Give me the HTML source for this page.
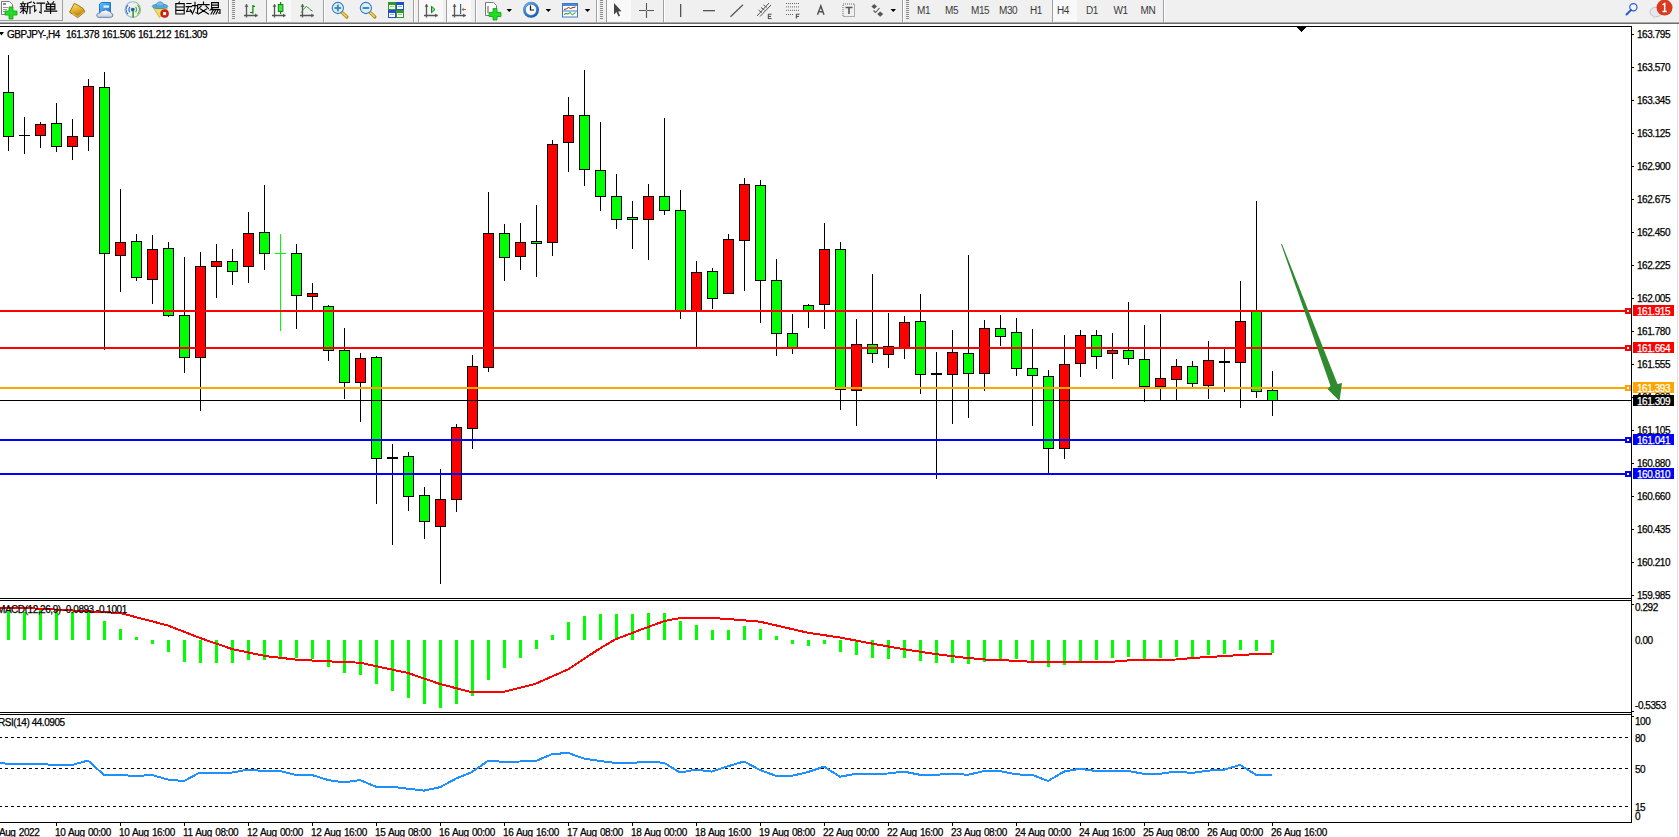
<!DOCTYPE html><html><head><meta charset="utf-8"><style>
html,body{margin:0;padding:0;background:#fff;overflow:hidden;}
svg{display:block;}
.t{font-family:"Liberation Sans",sans-serif;font-size:10px;letter-spacing:-0.45px;fill:#000;stroke:#000;stroke-width:0.25px;}
.tf{font-family:"Liberation Sans",sans-serif;font-size:10px;letter-spacing:-0.4px;fill:#3a3a3a;}
.tm{font-family:"Liberation Sans",sans-serif;font-size:10px;letter-spacing:-0.42px;word-spacing:1px;fill:#000;stroke:#000;stroke-width:0.25px;}
</style></head><body>
<svg width="1679" height="837" viewBox="0 0 1679 837">
<g shape-rendering="crispEdges">
<rect x="0" y="0" width="1679" height="22" fill="#f0f0f0"/>
<rect x="0" y="22" width="1679" height="1" fill="#a8a8a8"/>
<rect x="0" y="23" width="1679" height="1" fill="#6e6e6e"/>
<rect x="0" y="24" width="1679" height="813" fill="#fff"/>
<rect x="1677" y="24" width="1" height="813" fill="#e3e3e3"/>
<rect x="0" y="26" width="1632" height="1" fill="#000"/>
<rect x="1631" y="26" width="1" height="797" fill="#000"/>
<rect x="0" y="598" width="1632" height="1" fill="#000"/>
<rect x="0" y="600" width="1632" height="1" fill="#000"/>
<rect x="0" y="712" width="1632" height="1" fill="#000"/>
<rect x="0" y="714" width="1632" height="1" fill="#000"/>
<rect x="0" y="822" width="1632" height="1" fill="#000"/>
</g>
<rect x="62" y="0" width="1" height="21" fill="#a0a0a0"/>
<rect x="0" y="20" width="63" height="1" fill="#a0a0a0"/>
<path d="M1.5 1.5H9.5L12.5 4.5V14.5H1.5Z" fill="#fff" stroke="#7a7a7a" stroke-width="1"/>
<rect x="3" y="3" width="3" height="2" fill="#888"/>
<rect x="3" y="7" width="5" height="1" fill="#999"/><rect x="3" y="9" width="4" height="1" fill="#999"/><rect x="3" y="11" width="3" height="1" fill="#999"/>
<path d="M9 7H13V11H17V15H13V19H9V15H5V11H9Z" fill="#22dd22" stroke="#10a010" stroke-width="0.8"/>
<g transform="translate(20,1.5)"><path d="M3 0.5V1.8 M0.5 2.3H6 M1.6 3.2L2.2 4.6 M4.6 3.2L4 4.6 M0.2 5.2H6.4 M0.6 7.3H6 M3.2 5.2V12 M3 8.2L0.4 11 M3.5 8.2L6 10.2 M11.3 0.5L7.6 1.8 M7.6 1.8V7.5L6.6 12 M7.6 5.2H12 M10 5.2V12" stroke="#000" stroke-width="1.1" fill="none" stroke-linecap="square"/></g>
<g transform="translate(32.5,1.5)"><path d="M1 0.8L2.2 2 M0.4 4.3H2.2V10L3.6 8.6 M4.6 1.6H12 M8.6 1.6V11.6L7 10.6" stroke="#000" stroke-width="1.1" fill="none" stroke-linecap="square"/></g>
<g transform="translate(44.5,1.5)"><path d="M3 0.2L4 1.5 M9.2 0.2L8.2 1.5 M1.8 2.6H10.4V7.6H1.8Z M1.8 5.1H10.4 M6.1 2.6V12 M0 9.6H12.2" stroke="#000" stroke-width="1.1" fill="none" stroke-linecap="square"/></g>
<defs><linearGradient id="gb" x1="0" y1="0" x2="0.3" y2="1"><stop offset="0" stop-color="#fbe88a"/><stop offset="0.55" stop-color="#e2b52a"/><stop offset="1" stop-color="#b07812"/></linearGradient><linearGradient id="cb" x1="0" y1="0" x2="0" y2="1"><stop offset="0" stop-color="#ffffff"/><stop offset="1" stop-color="#c4cfe2"/></linearGradient><linearGradient id="bx" x1="0" y1="0" x2="1" y2="1"><stop offset="0" stop-color="#5cc4ff"/><stop offset="1" stop-color="#1a78d8"/></linearGradient><radialGradient id="ck" cx="0.4" cy="0.35" r="0.7"><stop offset="0" stop-color="#8fd0ff"/><stop offset="1" stop-color="#0a50b0"/></radialGradient></defs>
<path d="M69.5 12.2 Q72 8 74.3 3.3 Q79 5.5 83.3 8.8 L84.8 11.8 L77.8 17.6 Z" fill="url(#gb)" stroke="#9a6408" stroke-width="0.9"/>
<path d="M72 13.8 L78 16.5 L84 11.6" stroke="#f0d070" stroke-width="0.8" fill="none"/>
<path d="M99.5 4 L101.5 2.5 H110.5 V12.5 H99.5 Z" fill="url(#bx)" stroke="#1a6ac0" stroke-width="0.9"/>
<rect x="103.5" y="5.5" width="5.5" height="2.2" fill="#e8f6ff"/>
<path d="M98 17.3 Q96 16.5 97 14.3 Q97.8 12.8 99.8 13.2 Q100.5 10.2 104 10.4 Q106 9 108.2 11 Q110.5 10.8 111 13 Q113.3 13.5 112.8 16 Q112.3 17.3 110.5 17.3 Z" fill="url(#cb)" stroke="#5a74a6" stroke-width="0.9"/>
<path d="M128 14.2 A6.2 6.2 0 0 1 128 5 M130 12.2 A3.6 3.6 0 0 1 130 7" stroke="#3a6fd0" stroke-width="1.2" fill="none"/>
<path d="M137.5 5 A6.2 6.2 0 0 1 137.5 14.2 M135.5 7 A3.6 3.6 0 0 1 135.5 12.2" stroke="#5aa85a" stroke-width="1.2" fill="none"/>
<path d="M132.8 1.8 A7.8 7.8 0 0 1 132.8 17.4" stroke="#8cc88c" stroke-width="1.1" fill="none"/>
<path d="M132.8 1.8 A7.8 7.8 0 0 0 132.8 17.4" stroke="#9ab4e4" stroke-width="1.1" fill="none"/>
<circle cx="132.8" cy="9.6" r="1.9" fill="#2050c0"/>
<rect x="132.4" y="9.6" width="1.4" height="8" fill="#10a010"/>
<path d="M153.5 8 L159.5 17.5 L167.5 8 Z" fill="#f2dc60" stroke="#c8a828" stroke-width="0.8"/>
<ellipse cx="160" cy="6.3" rx="7.8" ry="2.3" fill="#58acdc" stroke="#3a86c0" stroke-width="0.8"/>
<path d="M156.3 6 Q156.5 1.8 160 1.8 Q163.5 1.8 163.7 6 Z" fill="#70c0ea" stroke="#3a86c0" stroke-width="0.6"/>
<circle cx="164.6" cy="13.6" r="4" fill="#d82010" stroke="#a81808" stroke-width="0.6"/>
<rect x="163.1" y="12.1" width="3" height="3" fill="#fff"/>
<g transform="translate(174,2)"><path d="M5.4 0L4.6 1.5 M1.8 1.6H10.2V12H1.8Z M1.8 5H10.2 M1.8 8.4H10.2" stroke="#000" stroke-width="1.1" fill="none" stroke-linecap="square"/></g>
<g transform="translate(186,2)"><path d="M0.8 1.5H5 M0.2 4.6H5.6 M2.6 4.6L0.6 9.6L5.6 9 M4.2 7.8L5.6 10.6 M6.4 3.6H11.6V11.6L10 10.6 M9 0.4V6L6.4 12" stroke="#000" stroke-width="1.1" fill="none" stroke-linecap="square"/></g>
<g transform="translate(197.5,2)"><path d="M6 0V1.5 M0.4 2.6H11.6 M3.6 4L1 6.6 M8.4 4L11 6.6 M3 7L11 12 M9 7L1 12" stroke="#000" stroke-width="1.1" fill="none" stroke-linecap="square"/></g>
<g transform="translate(209,2)"><path d="M2.6 0.6H9.4V5.6H2.6Z M2.6 3.1H9.4 M3.6 6L1 8.2 M2.2 7.6H11V11.4L9.4 11 M4.2 8.2L2 12 M6.6 8.2L4.4 12 M9 8.2L7 12" stroke="#000" stroke-width="1.1" fill="none" stroke-linecap="square"/></g>
<rect x="228" y="0" width="1" height="22" fill="#a0a0a0"/><rect x="229" y="0" width="1" height="22" fill="#ffffff"/>
<rect x="232" y="0" width="3" height="1" fill="#8a8a8a"/><rect x="232" y="2" width="3" height="1" fill="#8a8a8a"/><rect x="232" y="4" width="3" height="1" fill="#8a8a8a"/><rect x="232" y="6" width="3" height="1" fill="#8a8a8a"/><rect x="232" y="8" width="3" height="1" fill="#8a8a8a"/><rect x="232" y="10" width="3" height="1" fill="#8a8a8a"/><rect x="232" y="12" width="3" height="1" fill="#8a8a8a"/><rect x="232" y="14" width="3" height="1" fill="#8a8a8a"/><rect x="232" y="16" width="3" height="1" fill="#8a8a8a"/><rect x="232" y="18" width="3" height="1" fill="#8a8a8a"/>
<path d="M246.5 4.3 V17.5 M244 15.5 H257.6" stroke="#555" stroke-width="1.3" fill="none"/><path d="M244.5 6.8 L246.5 4.3 L248.5 6.8 Z M255.10000000000002 13.5 L257.6 15.5 L255.10000000000002 17.5 Z" fill="#555"/>
<path d="M252.9 5 V13.8 M250 12.5 H252.9 M252.9 6.4 H255" stroke="#008800" stroke-width="1.2" fill="none"/>
<rect x="266" y="0" width="1" height="22" fill="#a0a0a0"/><rect x="267" y="0" width="1" height="22" fill="#ffffff"/>
<rect x="267" y="0" width="24" height="20" fill="#f9f9f9"/><rect x="267" y="20" width="24" height="1" fill="#ffffff"/><rect x="266" y="0" width="1" height="20" fill="#a0a0a0"/>
<path d="M274.5 4.3 V17.5 M272 15.5 H285.5" stroke="#555" stroke-width="1.3" fill="none"/><path d="M272.5 6.8 L274.5 4.3 L276.5 6.8 Z M283.0 13.5 L285.5 15.5 L283.0 17.5 Z" fill="#555"/>
<rect x="280" y="2" width="1.2" height="12" fill="#0a8a0a"/>
<rect x="278.3" y="4.5" width="4.6" height="7" fill="#44e044" stroke="#0a8a0a" stroke-width="1"/>
<path d="M302.5 4.3 V17.5 M300 15.5 H313.8" stroke="#555" stroke-width="1.3" fill="none"/><path d="M300.5 6.8 L302.5 4.3 L304.5 6.8 Z M311.3 13.5 L313.8 15.5 L311.3 17.5 Z" fill="#555"/>
<path d="M301.2 12.6 Q306 5 307.5 7 Q310 10 312.6 11.2" stroke="#229922" stroke-width="1" fill="none"/>
<rect x="323" y="0" width="1" height="22" fill="#a0a0a0"/><rect x="324" y="0" width="1" height="22" fill="#ffffff"/>
<path d="M340.9 11.3 L346.9 17" stroke="#b08010" stroke-width="3.2" stroke-linecap="round"/>
<path d="M340.9 11.3 L346.9 17" stroke="#e8d050" stroke-width="1.8"/>
<circle cx="337.9" cy="8" r="5.6" fill="#d8f0fa" stroke="#3a7ac8" stroke-width="1.1"/>
<rect x="334.59999999999997" y="7" width="6.6" height="2" fill="#4a88b0"/>
<rect x="336.9" y="4.7" width="2" height="6.6" fill="#4a88b0"/>
<path d="M368.9 11.3 L374.9 17" stroke="#b08010" stroke-width="3.2" stroke-linecap="round"/>
<path d="M368.9 11.3 L374.9 17" stroke="#e8d050" stroke-width="1.8"/>
<circle cx="365.9" cy="8" r="5.6" fill="#d8f0fa" stroke="#3a7ac8" stroke-width="1.1"/>
<rect x="362.59999999999997" y="7" width="6.6" height="2" fill="#4a88b0"/>
<rect x="388" y="2" width="8" height="8" fill="#2a9a2a"/>
<rect x="389" y="5" width="6" height="4" fill="#fff"/>
<rect x="390" y="6" width="4" height="1" fill="#2a9a2a" opacity="0.5"/>
<rect x="396" y="2" width="8" height="8" fill="#2050c8"/>
<rect x="397" y="5" width="6" height="4" fill="#fff"/>
<rect x="398" y="6" width="4" height="1" fill="#2050c8" opacity="0.5"/>
<rect x="388" y="10" width="8" height="8" fill="#2050c8"/>
<rect x="389" y="13" width="6" height="4" fill="#fff"/>
<rect x="390" y="14" width="4" height="1" fill="#2050c8" opacity="0.5"/>
<rect x="396" y="10" width="8" height="8" fill="#2a9a2a"/>
<rect x="397" y="13" width="6" height="4" fill="#fff"/>
<rect x="398" y="14" width="4" height="1" fill="#2a9a2a" opacity="0.5"/>
<rect x="413" y="0" width="1" height="22" fill="#a0a0a0"/><rect x="414" y="0" width="1" height="22" fill="#ffffff"/>
<rect x="418" y="0" width="1" height="22" fill="#a0a0a0"/><rect x="419" y="0" width="1" height="22" fill="#ffffff"/>
<rect x="419" y="0" width="24" height="20" fill="#f9f9f9"/><rect x="419" y="20" width="24" height="1" fill="#ffffff"/><rect x="418" y="0" width="1" height="20" fill="#a0a0a0"/>
<path d="M426.5 4.3 V17.5 M424 15.5 H437.7" stroke="#555" stroke-width="1.3" fill="none"/><path d="M424.5 6.8 L426.5 4.3 L428.5 6.8 Z M435.2 13.5 L437.7 15.5 L435.2 17.5 Z" fill="#555"/>
<path d="M431.5 6.2 L435 9.5 L431.5 12.8 Z" fill="#7fe07f" stroke="#108a10" stroke-width="1"/>
<rect x="446" y="0" width="1" height="22" fill="#a0a0a0"/><rect x="447" y="0" width="1" height="22" fill="#ffffff"/>
<rect x="447" y="0" width="24" height="20" fill="#f9f9f9"/><rect x="447" y="20" width="24" height="1" fill="#ffffff"/><rect x="446" y="0" width="1" height="20" fill="#a0a0a0"/>
<path d="M454.5 4.3 V17.5 M452 15.5 H465.7" stroke="#555" stroke-width="1.3" fill="none"/><path d="M452.5 6.8 L454.5 4.3 L456.5 6.8 Z M463.2 13.5 L465.7 15.5 L463.2 17.5 Z" fill="#555"/>
<rect x="460" y="4" width="1.2" height="10" fill="#1a70b0"/>
<path d="M461.5 9.5 L464 7.5 L463.5 9 H466 V10 H463.5 L464 11.5 Z" fill="#e05010"/>
<rect x="475" y="0" width="1" height="22" fill="#a0a0a0"/><rect x="476" y="0" width="1" height="22" fill="#ffffff"/>
<path d="M485.5 2.5H493.5L496.5 5.5V15.5H485.5Z" fill="#fff" stroke="#7a7a7a" stroke-width="1"/>
<path d="M488 6 V13" stroke="#555" stroke-width="1"/>
<path d="M493 8.5H497V12.5H501V16.5H497V20H493V16.5H489V12.5H493Z" fill="#22dd22" stroke="#10a010" stroke-width="0.8"/>
<path d="M506.5 9 H512.0 L509.25 12 Z" fill="#000"/>
<circle cx="531" cy="9.8" r="8" fill="url(#ck)"/>
<circle cx="531" cy="9.8" r="5.6" fill="#fafafa" stroke="#0a4aa0" stroke-width="0.5"/>
<path d="M530.5 5.5 V10 H534" stroke="#111" stroke-width="1.2" fill="none"/>
<path d="M545.6 9 H551.1 L548.35 12 Z" fill="#000"/>
<rect x="562.5" y="3.5" width="15" height="13.5" fill="#fff" stroke="#3c78c8" stroke-width="1"/>
<rect x="563" y="4" width="14" height="2" fill="#4a88d8"/>
<rect x="563" y="10.5" width="14" height="1" fill="#3c78c8"/>
<path d="M564 9.5 L566.5 8.8 L568.5 7.5 L570.5 8.5 L573 7.5 L575.5 7" stroke="#a02010" stroke-width="1" fill="none"/>
<path d="M564 14.5 L566 13.5 L568 14 L570 12.5 L572.5 14.8 L575.5 12.5" stroke="#109010" stroke-width="1" fill="none"/>
<path d="M584.8 9 H590.3 L587.55 12 Z" fill="#000"/>
<rect x="596" y="0" width="1" height="22" fill="#a0a0a0"/><rect x="597" y="0" width="1" height="22" fill="#ffffff"/>
<rect x="600" y="0" width="3" height="1" fill="#8a8a8a"/><rect x="600" y="2" width="3" height="1" fill="#8a8a8a"/><rect x="600" y="4" width="3" height="1" fill="#8a8a8a"/><rect x="600" y="6" width="3" height="1" fill="#8a8a8a"/><rect x="600" y="8" width="3" height="1" fill="#8a8a8a"/><rect x="600" y="10" width="3" height="1" fill="#8a8a8a"/><rect x="600" y="12" width="3" height="1" fill="#8a8a8a"/><rect x="600" y="14" width="3" height="1" fill="#8a8a8a"/><rect x="600" y="16" width="3" height="1" fill="#8a8a8a"/><rect x="600" y="18" width="3" height="1" fill="#8a8a8a"/>
<rect x="606" y="0" width="1" height="22" fill="#a0a0a0"/><rect x="607" y="0" width="1" height="22" fill="#ffffff"/>
<rect x="607" y="0" width="24" height="20" fill="#f9f9f9"/><rect x="607" y="20" width="24" height="1" fill="#ffffff"/><rect x="606" y="0" width="1" height="20" fill="#a0a0a0"/>
<path d="M614 3 L614 14.5 L616.5 12 L618.5 16.5 L620 15.8 L618.2 11.5 L621.5 11.2 Z" fill="#444"/>
<path d="M646.5 3 V18 M639 10.5 H654" stroke="#555" stroke-width="1.1"/>
<rect x="646" y="10" width="1" height="1" fill="#f0f0f0"/>
<rect x="663" y="0" width="1" height="22" fill="#a0a0a0"/><rect x="664" y="0" width="1" height="22" fill="#ffffff"/>
<rect x="680" y="4" width="1.3" height="13" fill="#555"/>
<rect x="703" y="10" width="12" height="1.3" fill="#555"/>
<path d="M730.5 16.8 L743 4.8" stroke="#555" stroke-width="1.2"/>
<path d="M757 16 L769 3 M760 16.5 L771 5 M758.5 10 L762 12.5 M761 7.5 L764.5 10 M763.5 5 L767 7.5" stroke="#555" stroke-width="1" fill="none"/>
<path d="M771.5 14.2 H768.3 V18.6 H771.5 M768.3 16.4 H771" stroke="#444" stroke-width="1" fill="none"/>
<path d="M786 3.5 H799" stroke="#666" stroke-width="1" stroke-dasharray="1 1"/>
<path d="M786 6.9 H799" stroke="#666" stroke-width="1" stroke-dasharray="1 1"/>
<path d="M786 10.3 H799" stroke="#666" stroke-width="1" stroke-dasharray="1 1"/>
<path d="M786 14.5 H794" stroke="#666" stroke-width="1" stroke-dasharray="1 1"/>
<path d="M799.5 14.2 H796.3 V18.6 M796.3 16.4 H799" stroke="#444" stroke-width="1" fill="none"/>
<path d="M817.5 14.7 L820.8 6 L824 14.7 M818.8 11.8 H822.8" stroke="#555" stroke-width="1.5" fill="none"/>
<rect x="843" y="4" width="11.5" height="12.5" fill="none" stroke="#666" stroke-width="1" stroke-dasharray="1 1"/>
<path d="M845.5 7.5 H852.5 M849 7.5 V14" stroke="#555" stroke-width="1.6" fill="none"/>
<path d="M874.2 4 L877 6.5 L874.2 9 L871.4 6.5 Z M880.2 16.7 L883.2 14 L880.2 11.5 L877.2 14 Z" fill="#555"/>
<path d="M873.5 10.5 L875.5 12.5 L879.5 8" stroke="#555" stroke-width="1.1" fill="none"/>
<path d="M890.5 9 H896.0 L893.25 12 Z" fill="#000"/>
<rect x="902" y="0" width="1" height="22" fill="#a0a0a0"/><rect x="903" y="0" width="1" height="22" fill="#ffffff"/>
<rect x="906" y="0" width="3" height="1" fill="#8a8a8a"/><rect x="906" y="2" width="3" height="1" fill="#8a8a8a"/><rect x="906" y="4" width="3" height="1" fill="#8a8a8a"/><rect x="906" y="6" width="3" height="1" fill="#8a8a8a"/><rect x="906" y="8" width="3" height="1" fill="#8a8a8a"/><rect x="906" y="10" width="3" height="1" fill="#8a8a8a"/><rect x="906" y="12" width="3" height="1" fill="#8a8a8a"/><rect x="906" y="14" width="3" height="1" fill="#8a8a8a"/><rect x="906" y="16" width="3" height="1" fill="#8a8a8a"/><rect x="906" y="18" width="3" height="1" fill="#8a8a8a"/>
<rect x="1052" y="0" width="1" height="22" fill="#a0a0a0"/><rect x="1053" y="0" width="1" height="22" fill="#ffffff"/>
<rect x="1053" y="0" width="24" height="20" fill="#f9f9f9"/><rect x="1053" y="20" width="24" height="1" fill="#ffffff"/><rect x="1052" y="0" width="1" height="20" fill="#a0a0a0"/>
<text x="917" y="14" class="tf">M1</text>
<text x="945" y="14" class="tf">M5</text>
<text x="971" y="14" class="tf">M15</text>
<text x="999" y="14" class="tf">M30</text>
<text x="1030" y="14" class="tf">H1</text>
<text x="1057" y="14" class="tf">H4</text>
<text x="1086" y="14" class="tf">D1</text>
<text x="1113.5" y="14" class="tf">W1</text>
<text x="1140.5" y="14" class="tf">MN</text>
<rect x="1163" y="0" width="1" height="22" fill="#a0a0a0"/><rect x="1164" y="0" width="1" height="22" fill="#ffffff"/>
<circle cx="1633.4" cy="7.3" r="3.6" fill="#f4f6ff" stroke="#2a5ad0" stroke-width="1.2"/>
<path d="M1631 10 L1626.5 14.5" stroke="#2a5ad0" stroke-width="2" stroke-linecap="round"/>
<ellipse cx="1656" cy="12" rx="6" ry="4.8" fill="#e6e6ee" stroke="#b8b8b8" stroke-width="0.8"/>
<path d="M1653 16 L1653.5 18.8 L1656.5 16.2 Z" fill="#d8d8e0"/>
<circle cx="1664.5" cy="7.6" r="8" fill="#d93a20"/>
<path d="M1662.5 11.6 H1666.8 M1664.7 11.6 V3.5 L1662.6 4.8" stroke="#fff" stroke-width="1.5" fill="none"/>
<g shape-rendering="crispEdges">
<rect x="8" y="55" width="1" height="96" fill="#000"/>
<rect x="3" y="92" width="11" height="45" fill="#000"/>
<rect x="4" y="93" width="9" height="43" fill="#00ff00"/>
<rect x="24" y="117" width="1" height="37" fill="#000"/>
<rect x="19" y="135" width="11" height="1" fill="#000"/>
<rect x="40" y="122" width="1" height="26" fill="#000"/>
<rect x="35" y="124" width="11" height="12" fill="#000"/>
<rect x="36" y="125" width="9" height="10" fill="#ff0000"/>
<rect x="56" y="103" width="1" height="49" fill="#000"/>
<rect x="51" y="123" width="11" height="24" fill="#000"/>
<rect x="52" y="124" width="9" height="22" fill="#00ff00"/>
<rect x="72" y="119" width="1" height="41" fill="#000"/>
<rect x="67" y="136" width="11" height="11" fill="#000"/>
<rect x="68" y="137" width="9" height="9" fill="#ff0000"/>
<rect x="88" y="79" width="1" height="72" fill="#000"/>
<rect x="83" y="86" width="11" height="51" fill="#000"/>
<rect x="84" y="87" width="9" height="49" fill="#ff0000"/>
<rect x="104" y="72" width="1" height="278" fill="#000"/>
<rect x="99" y="87" width="11" height="167" fill="#000"/>
<rect x="100" y="88" width="9" height="165" fill="#00ff00"/>
<rect x="120" y="189" width="1" height="103" fill="#000"/>
<rect x="115" y="242" width="11" height="14" fill="#000"/>
<rect x="116" y="243" width="9" height="12" fill="#ff0000"/>
<rect x="136" y="234" width="1" height="47" fill="#000"/>
<rect x="131" y="241" width="11" height="37" fill="#000"/>
<rect x="132" y="242" width="9" height="35" fill="#00ff00"/>
<rect x="152" y="235" width="1" height="69" fill="#000"/>
<rect x="147" y="249" width="11" height="31" fill="#000"/>
<rect x="148" y="250" width="9" height="29" fill="#ff0000"/>
<rect x="168" y="242" width="1" height="75" fill="#000"/>
<rect x="163" y="248" width="11" height="68" fill="#000"/>
<rect x="164" y="249" width="9" height="66" fill="#00ff00"/>
<rect x="184" y="257" width="1" height="116" fill="#000"/>
<rect x="179" y="315" width="11" height="43" fill="#000"/>
<rect x="180" y="316" width="9" height="41" fill="#00ff00"/>
<rect x="200" y="252" width="1" height="159" fill="#000"/>
<rect x="195" y="266" width="11" height="92" fill="#000"/>
<rect x="196" y="267" width="9" height="90" fill="#ff0000"/>
<rect x="216" y="244" width="1" height="54" fill="#000"/>
<rect x="211" y="261" width="11" height="6" fill="#000"/>
<rect x="212" y="262" width="9" height="4" fill="#ff0000"/>
<rect x="232" y="249" width="1" height="36" fill="#000"/>
<rect x="227" y="261" width="11" height="11" fill="#000"/>
<rect x="228" y="262" width="9" height="9" fill="#00ff00"/>
<rect x="248" y="212" width="1" height="71" fill="#000"/>
<rect x="243" y="233" width="11" height="34" fill="#000"/>
<rect x="244" y="234" width="9" height="32" fill="#ff0000"/>
<rect x="264" y="185" width="1" height="85" fill="#000"/>
<rect x="259" y="232" width="11" height="22" fill="#000"/>
<rect x="260" y="233" width="9" height="20" fill="#00ff00"/>
<rect x="280" y="234" width="1" height="97" fill="#00ff00"/>
<rect x="275" y="253" width="11" height="1" fill="#00ff00"/>
<rect x="296" y="244" width="1" height="85" fill="#000"/>
<rect x="291" y="253" width="11" height="43" fill="#000"/>
<rect x="292" y="254" width="9" height="41" fill="#00ff00"/>
<rect x="312" y="283" width="1" height="27" fill="#000"/>
<rect x="307" y="293" width="11" height="4" fill="#000"/>
<rect x="308" y="294" width="9" height="2" fill="#ff0000"/>
<rect x="328" y="305" width="1" height="56" fill="#000"/>
<rect x="323" y="306" width="11" height="45" fill="#000"/>
<rect x="324" y="307" width="9" height="43" fill="#00ff00"/>
<rect x="344" y="328" width="1" height="71" fill="#000"/>
<rect x="339" y="350" width="11" height="33" fill="#000"/>
<rect x="340" y="351" width="9" height="31" fill="#00ff00"/>
<rect x="360" y="353" width="1" height="69" fill="#000"/>
<rect x="355" y="358" width="11" height="25" fill="#000"/>
<rect x="356" y="359" width="9" height="23" fill="#ff0000"/>
<rect x="376" y="356" width="1" height="148" fill="#000"/>
<rect x="371" y="357" width="11" height="102" fill="#000"/>
<rect x="372" y="358" width="9" height="100" fill="#00ff00"/>
<rect x="392" y="444" width="1" height="101" fill="#000"/>
<rect x="387" y="457" width="11" height="2" fill="#000"/>
<rect x="408" y="452" width="1" height="59" fill="#000"/>
<rect x="403" y="456" width="11" height="41" fill="#000"/>
<rect x="404" y="457" width="9" height="39" fill="#00ff00"/>
<rect x="424" y="487" width="1" height="52" fill="#000"/>
<rect x="419" y="495" width="11" height="27" fill="#000"/>
<rect x="420" y="496" width="9" height="25" fill="#00ff00"/>
<rect x="440" y="469" width="1" height="115" fill="#000"/>
<rect x="435" y="499" width="11" height="28" fill="#000"/>
<rect x="436" y="500" width="9" height="26" fill="#ff0000"/>
<rect x="456" y="424" width="1" height="88" fill="#000"/>
<rect x="451" y="427" width="11" height="73" fill="#000"/>
<rect x="452" y="428" width="9" height="71" fill="#ff0000"/>
<rect x="472" y="355" width="1" height="94" fill="#000"/>
<rect x="467" y="366" width="11" height="63" fill="#000"/>
<rect x="468" y="367" width="9" height="61" fill="#ff0000"/>
<rect x="488" y="192" width="1" height="180" fill="#000"/>
<rect x="483" y="233" width="11" height="135" fill="#000"/>
<rect x="484" y="234" width="9" height="133" fill="#ff0000"/>
<rect x="504" y="224" width="1" height="57" fill="#000"/>
<rect x="499" y="233" width="11" height="25" fill="#000"/>
<rect x="500" y="234" width="9" height="23" fill="#00ff00"/>
<rect x="520" y="223" width="1" height="47" fill="#000"/>
<rect x="515" y="242" width="11" height="15" fill="#000"/>
<rect x="516" y="243" width="9" height="13" fill="#ff0000"/>
<rect x="536" y="205" width="1" height="72" fill="#000"/>
<rect x="531" y="241" width="11" height="3" fill="#000"/>
<rect x="532" y="242" width="9" height="1" fill="#00ff00"/>
<rect x="552" y="140" width="1" height="116" fill="#000"/>
<rect x="547" y="144" width="11" height="99" fill="#000"/>
<rect x="548" y="145" width="9" height="97" fill="#ff0000"/>
<rect x="568" y="97" width="1" height="75" fill="#000"/>
<rect x="563" y="115" width="11" height="28" fill="#000"/>
<rect x="564" y="116" width="9" height="26" fill="#ff0000"/>
<rect x="584" y="70" width="1" height="116" fill="#000"/>
<rect x="579" y="115" width="11" height="55" fill="#000"/>
<rect x="580" y="116" width="9" height="53" fill="#00ff00"/>
<rect x="600" y="122" width="1" height="89" fill="#000"/>
<rect x="595" y="170" width="11" height="27" fill="#000"/>
<rect x="596" y="171" width="9" height="25" fill="#00ff00"/>
<rect x="616" y="174" width="1" height="55" fill="#000"/>
<rect x="611" y="196" width="11" height="24" fill="#000"/>
<rect x="612" y="197" width="9" height="22" fill="#00ff00"/>
<rect x="632" y="201" width="1" height="48" fill="#000"/>
<rect x="627" y="217" width="11" height="3" fill="#000"/>
<rect x="628" y="218" width="9" height="1" fill="#00ff00"/>
<rect x="648" y="184" width="1" height="76" fill="#000"/>
<rect x="643" y="196" width="11" height="24" fill="#000"/>
<rect x="644" y="197" width="9" height="22" fill="#ff0000"/>
<rect x="664" y="118" width="1" height="97" fill="#000"/>
<rect x="659" y="196" width="11" height="15" fill="#000"/>
<rect x="660" y="197" width="9" height="13" fill="#00ff00"/>
<rect x="680" y="190" width="1" height="129" fill="#000"/>
<rect x="675" y="210" width="11" height="101" fill="#000"/>
<rect x="676" y="211" width="9" height="99" fill="#00ff00"/>
<rect x="696" y="261" width="1" height="87" fill="#000"/>
<rect x="691" y="272" width="11" height="39" fill="#000"/>
<rect x="692" y="273" width="9" height="37" fill="#ff0000"/>
<rect x="712" y="268" width="1" height="41" fill="#000"/>
<rect x="707" y="271" width="11" height="28" fill="#000"/>
<rect x="708" y="272" width="9" height="26" fill="#00ff00"/>
<rect x="728" y="234" width="1" height="60" fill="#000"/>
<rect x="723" y="239" width="11" height="55" fill="#000"/>
<rect x="724" y="240" width="9" height="53" fill="#ff0000"/>
<rect x="744" y="178" width="1" height="113" fill="#000"/>
<rect x="739" y="184" width="11" height="57" fill="#000"/>
<rect x="740" y="185" width="9" height="55" fill="#ff0000"/>
<rect x="760" y="180" width="1" height="143" fill="#000"/>
<rect x="755" y="185" width="11" height="96" fill="#000"/>
<rect x="756" y="186" width="9" height="94" fill="#00ff00"/>
<rect x="776" y="259" width="1" height="97" fill="#000"/>
<rect x="771" y="280" width="11" height="54" fill="#000"/>
<rect x="772" y="281" width="9" height="52" fill="#00ff00"/>
<rect x="792" y="314" width="1" height="40" fill="#000"/>
<rect x="787" y="333" width="11" height="15" fill="#000"/>
<rect x="788" y="334" width="9" height="13" fill="#00ff00"/>
<rect x="808" y="304" width="1" height="24" fill="#000"/>
<rect x="803" y="305" width="11" height="6" fill="#000"/>
<rect x="804" y="306" width="9" height="4" fill="#00ff00"/>
<rect x="824" y="223" width="1" height="106" fill="#000"/>
<rect x="819" y="249" width="11" height="56" fill="#000"/>
<rect x="820" y="250" width="9" height="54" fill="#ff0000"/>
<rect x="840" y="242" width="1" height="168" fill="#000"/>
<rect x="835" y="249" width="11" height="141" fill="#000"/>
<rect x="836" y="250" width="9" height="139" fill="#00ff00"/>
<rect x="856" y="319" width="1" height="107" fill="#000"/>
<rect x="851" y="344" width="11" height="47" fill="#000"/>
<rect x="852" y="345" width="9" height="45" fill="#ff0000"/>
<rect x="872" y="274" width="1" height="89" fill="#000"/>
<rect x="867" y="344" width="11" height="10" fill="#000"/>
<rect x="868" y="345" width="9" height="8" fill="#00ff00"/>
<rect x="888" y="313" width="1" height="55" fill="#000"/>
<rect x="883" y="346" width="11" height="9" fill="#000"/>
<rect x="884" y="347" width="9" height="7" fill="#ff0000"/>
<rect x="904" y="316" width="1" height="43" fill="#000"/>
<rect x="899" y="322" width="11" height="26" fill="#000"/>
<rect x="900" y="323" width="9" height="24" fill="#ff0000"/>
<rect x="920" y="294" width="1" height="100" fill="#000"/>
<rect x="915" y="321" width="11" height="54" fill="#000"/>
<rect x="916" y="322" width="9" height="52" fill="#00ff00"/>
<rect x="936" y="352" width="1" height="127" fill="#000"/>
<rect x="931" y="373" width="11" height="2" fill="#000"/>
<rect x="952" y="330" width="1" height="94" fill="#000"/>
<rect x="947" y="352" width="11" height="23" fill="#000"/>
<rect x="948" y="353" width="9" height="21" fill="#ff0000"/>
<rect x="968" y="255" width="1" height="163" fill="#000"/>
<rect x="963" y="353" width="11" height="21" fill="#000"/>
<rect x="964" y="354" width="9" height="19" fill="#00ff00"/>
<rect x="984" y="320" width="1" height="71" fill="#000"/>
<rect x="979" y="328" width="11" height="46" fill="#000"/>
<rect x="980" y="329" width="9" height="44" fill="#ff0000"/>
<rect x="1000" y="315" width="1" height="31" fill="#000"/>
<rect x="995" y="328" width="11" height="9" fill="#000"/>
<rect x="996" y="329" width="9" height="7" fill="#00ff00"/>
<rect x="1016" y="318" width="1" height="58" fill="#000"/>
<rect x="1011" y="332" width="11" height="37" fill="#000"/>
<rect x="1012" y="333" width="9" height="35" fill="#00ff00"/>
<rect x="1032" y="329" width="1" height="97" fill="#000"/>
<rect x="1027" y="368" width="11" height="8" fill="#000"/>
<rect x="1028" y="369" width="9" height="6" fill="#00ff00"/>
<rect x="1048" y="370" width="1" height="104" fill="#000"/>
<rect x="1043" y="376" width="11" height="73" fill="#000"/>
<rect x="1044" y="377" width="9" height="71" fill="#00ff00"/>
<rect x="1064" y="335" width="1" height="124" fill="#000"/>
<rect x="1059" y="364" width="11" height="85" fill="#000"/>
<rect x="1060" y="365" width="9" height="83" fill="#ff0000"/>
<rect x="1080" y="330" width="1" height="47" fill="#000"/>
<rect x="1075" y="335" width="11" height="29" fill="#000"/>
<rect x="1076" y="336" width="9" height="27" fill="#ff0000"/>
<rect x="1096" y="330" width="1" height="39" fill="#000"/>
<rect x="1091" y="335" width="11" height="22" fill="#000"/>
<rect x="1092" y="336" width="9" height="20" fill="#00ff00"/>
<rect x="1112" y="333" width="1" height="46" fill="#000"/>
<rect x="1107" y="350" width="11" height="4" fill="#000"/>
<rect x="1108" y="351" width="9" height="2" fill="#ff0000"/>
<rect x="1128" y="302" width="1" height="63" fill="#000"/>
<rect x="1123" y="350" width="11" height="9" fill="#000"/>
<rect x="1124" y="351" width="9" height="7" fill="#00ff00"/>
<rect x="1144" y="325" width="1" height="77" fill="#000"/>
<rect x="1139" y="359" width="11" height="28" fill="#000"/>
<rect x="1140" y="360" width="9" height="26" fill="#00ff00"/>
<rect x="1160" y="314" width="1" height="87" fill="#000"/>
<rect x="1155" y="378" width="11" height="9" fill="#000"/>
<rect x="1156" y="379" width="9" height="7" fill="#ff0000"/>
<rect x="1176" y="359" width="1" height="42" fill="#000"/>
<rect x="1171" y="366" width="11" height="14" fill="#000"/>
<rect x="1172" y="367" width="9" height="12" fill="#ff0000"/>
<rect x="1192" y="361" width="1" height="27" fill="#000"/>
<rect x="1187" y="366" width="11" height="18" fill="#000"/>
<rect x="1188" y="367" width="9" height="16" fill="#00ff00"/>
<rect x="1208" y="341" width="1" height="58" fill="#000"/>
<rect x="1203" y="360" width="11" height="26" fill="#000"/>
<rect x="1204" y="361" width="9" height="24" fill="#ff0000"/>
<rect x="1224" y="349" width="1" height="43" fill="#000"/>
<rect x="1219" y="361" width="11" height="2" fill="#000"/>
<rect x="1240" y="281" width="1" height="127" fill="#000"/>
<rect x="1235" y="321" width="11" height="42" fill="#000"/>
<rect x="1236" y="322" width="9" height="40" fill="#ff0000"/>
<rect x="1256" y="201" width="1" height="197" fill="#000"/>
<rect x="1251" y="311" width="11" height="81" fill="#000"/>
<rect x="1252" y="312" width="9" height="79" fill="#00ff00"/>
<rect x="1272" y="371" width="1" height="45" fill="#000"/>
<rect x="1267" y="390" width="11" height="11" fill="#000"/>
<rect x="1268" y="391" width="9" height="9" fill="#00ff00"/>
<rect x="0" y="310" width="1625" height="2" fill="#ff0000"/>
<rect x="0" y="347" width="1625" height="2" fill="#ff0000"/>
<rect x="0" y="387" width="1625" height="2" fill="#ffa500"/>
<rect x="0" y="400" width="1631" height="1" fill="#000"/>
<rect x="0" y="439" width="1625" height="2" fill="#0000ff"/>
<rect x="0" y="473" width="1625" height="2" fill="#0000ff"/>
<polygon points="1296.5,27 1306.5,27 1301.5,32.5" fill="#000"/>
<rect x="1631" y="34" width="3" height="1" fill="#000"/>
<text x="1637" y="38" class="t">163.795</text>
<rect x="1631" y="67" width="3" height="1" fill="#000"/>
<text x="1637" y="71" class="t">163.570</text>
<rect x="1631" y="100" width="3" height="1" fill="#000"/>
<text x="1637" y="104" class="t">163.345</text>
<rect x="1631" y="133" width="3" height="1" fill="#000"/>
<text x="1637" y="137" class="t">163.125</text>
<rect x="1631" y="166" width="3" height="1" fill="#000"/>
<text x="1637" y="170" class="t">162.900</text>
<rect x="1631" y="199" width="3" height="1" fill="#000"/>
<text x="1637" y="203" class="t">162.675</text>
<rect x="1631" y="232" width="3" height="1" fill="#000"/>
<text x="1637" y="236" class="t">162.450</text>
<rect x="1631" y="265" width="3" height="1" fill="#000"/>
<text x="1637" y="269" class="t">162.225</text>
<rect x="1631" y="298" width="3" height="1" fill="#000"/>
<text x="1637" y="302" class="t">162.005</text>
<rect x="1631" y="331" width="3" height="1" fill="#000"/>
<text x="1637" y="335" class="t">161.780</text>
<rect x="1631" y="364" width="3" height="1" fill="#000"/>
<text x="1637" y="368" class="t">161.555</text>
<rect x="1631" y="397" width="3" height="1" fill="#000"/>
<text x="1637" y="401" class="t">161.330</text>
<rect x="1631" y="430" width="3" height="1" fill="#000"/>
<text x="1637" y="434" class="t">161.105</text>
<rect x="1631" y="463" width="3" height="1" fill="#000"/>
<text x="1637" y="467" class="t">160.880</text>
<rect x="1631" y="496" width="3" height="1" fill="#000"/>
<text x="1637" y="500" class="t">160.660</text>
<rect x="1631" y="529" width="3" height="1" fill="#000"/>
<text x="1637" y="533" class="t">160.435</text>
<rect x="1631" y="562" width="3" height="1" fill="#000"/>
<text x="1637" y="566" class="t">160.210</text>
<rect x="1631" y="595" width="3" height="1" fill="#000"/>
<text x="1637" y="599" class="t">159.985</text>
<rect x="1625" y="308" width="6" height="6" fill="#ff0000"/>
<rect x="1627" y="310" width="2" height="2" fill="#fff"/>
<rect x="1625" y="345" width="6" height="6" fill="#ff0000"/>
<rect x="1627" y="347" width="2" height="2" fill="#fff"/>
<rect x="1625" y="385" width="6" height="6" fill="#ffa500"/>
<rect x="1627" y="387" width="2" height="2" fill="#fff"/>
<rect x="1625" y="437" width="6" height="6" fill="#0000ff"/>
<rect x="1627" y="439" width="2" height="2" fill="#fff"/>
<rect x="1625" y="471" width="6" height="6" fill="#0000ff"/>
<rect x="1627" y="473" width="2" height="2" fill="#fff"/>
<rect x="1633" y="305" width="41" height="11" fill="#ff0000"/>
<text x="1637" y="315" class="t" style="fill:#fff;stroke:#fff">161.915</text>
<rect x="1633" y="342" width="41" height="11" fill="#ff0000"/>
<text x="1637" y="352" class="t" style="fill:#fff;stroke:#fff">161.664</text>
<rect x="1633" y="382" width="41" height="11" fill="#ffa500"/>
<text x="1637" y="392" class="t" style="fill:#fff;stroke:#fff">161.393</text>
<rect x="1633" y="395" width="41" height="11" fill="#000"/>
<text x="1637" y="405" class="t" style="fill:#fff;stroke:#fff">161.309</text>
<rect x="1633" y="434" width="41" height="11" fill="#0000ff"/>
<text x="1637" y="444" class="t" style="fill:#fff;stroke:#fff">161.041</text>
<rect x="1633" y="468" width="41" height="11" fill="#0000ff"/>
<text x="1637" y="478" class="t" style="fill:#fff;stroke:#fff">160.810</text>
<rect x="7" y="610" width="3" height="30" fill="#00ff00"/>
<rect x="23" y="612" width="3" height="28" fill="#00ff00"/>
<rect x="39" y="610" width="3" height="30" fill="#00ff00"/>
<rect x="55" y="611" width="3" height="29" fill="#00ff00"/>
<rect x="71" y="612" width="3" height="28" fill="#00ff00"/>
<rect x="87" y="611" width="3" height="29" fill="#00ff00"/>
<rect x="103" y="621" width="3" height="19" fill="#00ff00"/>
<rect x="119" y="629" width="3" height="11" fill="#00ff00"/>
<rect x="135" y="637" width="3" height="3" fill="#00ff00"/>
<rect x="151" y="640" width="3" height="4" fill="#00ff00"/>
<rect x="167" y="640" width="3" height="12" fill="#00ff00"/>
<rect x="183" y="640" width="3" height="22" fill="#00ff00"/>
<rect x="199" y="640" width="3" height="23" fill="#00ff00"/>
<rect x="215" y="640" width="3" height="23" fill="#00ff00"/>
<rect x="231" y="640" width="3" height="23" fill="#00ff00"/>
<rect x="247" y="640" width="3" height="20" fill="#00ff00"/>
<rect x="263" y="640" width="3" height="20" fill="#00ff00"/>
<rect x="279" y="640" width="3" height="18" fill="#00ff00"/>
<rect x="295" y="640" width="3" height="18" fill="#00ff00"/>
<rect x="311" y="640" width="3" height="19" fill="#00ff00"/>
<rect x="327" y="640" width="3" height="27" fill="#00ff00"/>
<rect x="343" y="640" width="3" height="33" fill="#00ff00"/>
<rect x="359" y="640" width="3" height="35" fill="#00ff00"/>
<rect x="375" y="640" width="3" height="44" fill="#00ff00"/>
<rect x="391" y="640" width="3" height="51" fill="#00ff00"/>
<rect x="407" y="640" width="3" height="58" fill="#00ff00"/>
<rect x="423" y="640" width="3" height="64" fill="#00ff00"/>
<rect x="439" y="640" width="3" height="68" fill="#00ff00"/>
<rect x="455" y="640" width="3" height="64" fill="#00ff00"/>
<rect x="471" y="640" width="3" height="56" fill="#00ff00"/>
<rect x="487" y="640" width="3" height="40" fill="#00ff00"/>
<rect x="503" y="640" width="3" height="28" fill="#00ff00"/>
<rect x="519" y="640" width="3" height="18" fill="#00ff00"/>
<rect x="535" y="640" width="3" height="9" fill="#00ff00"/>
<rect x="551" y="635" width="3" height="5" fill="#00ff00"/>
<rect x="567" y="622" width="3" height="18" fill="#00ff00"/>
<rect x="583" y="616" width="3" height="24" fill="#00ff00"/>
<rect x="599" y="614" width="3" height="26" fill="#00ff00"/>
<rect x="615" y="614" width="3" height="26" fill="#00ff00"/>
<rect x="631" y="614" width="3" height="26" fill="#00ff00"/>
<rect x="647" y="613" width="3" height="27" fill="#00ff00"/>
<rect x="663" y="613" width="3" height="27" fill="#00ff00"/>
<rect x="679" y="621" width="3" height="19" fill="#00ff00"/>
<rect x="695" y="625" width="3" height="15" fill="#00ff00"/>
<rect x="711" y="630" width="3" height="10" fill="#00ff00"/>
<rect x="727" y="630" width="3" height="10" fill="#00ff00"/>
<rect x="743" y="626" width="3" height="14" fill="#00ff00"/>
<rect x="759" y="629" width="3" height="11" fill="#00ff00"/>
<rect x="775" y="636" width="3" height="4" fill="#00ff00"/>
<rect x="791" y="640" width="3" height="4" fill="#00ff00"/>
<rect x="807" y="640" width="3" height="6" fill="#00ff00"/>
<rect x="823" y="640" width="3" height="4" fill="#00ff00"/>
<rect x="839" y="640" width="3" height="12" fill="#00ff00"/>
<rect x="855" y="640" width="3" height="15" fill="#00ff00"/>
<rect x="871" y="640" width="3" height="18" fill="#00ff00"/>
<rect x="887" y="640" width="3" height="19" fill="#00ff00"/>
<rect x="903" y="640" width="3" height="18" fill="#00ff00"/>
<rect x="919" y="640" width="3" height="21" fill="#00ff00"/>
<rect x="935" y="640" width="3" height="23" fill="#00ff00"/>
<rect x="951" y="640" width="3" height="23" fill="#00ff00"/>
<rect x="967" y="640" width="3" height="24" fill="#00ff00"/>
<rect x="983" y="640" width="3" height="22" fill="#00ff00"/>
<rect x="999" y="640" width="3" height="19" fill="#00ff00"/>
<rect x="1015" y="640" width="3" height="19" fill="#00ff00"/>
<rect x="1031" y="640" width="3" height="21" fill="#00ff00"/>
<rect x="1047" y="640" width="3" height="27" fill="#00ff00"/>
<rect x="1063" y="640" width="3" height="25" fill="#00ff00"/>
<rect x="1079" y="640" width="3" height="22" fill="#00ff00"/>
<rect x="1095" y="640" width="3" height="20" fill="#00ff00"/>
<rect x="1111" y="640" width="3" height="18" fill="#00ff00"/>
<rect x="1127" y="640" width="3" height="17" fill="#00ff00"/>
<rect x="1143" y="640" width="3" height="19" fill="#00ff00"/>
<rect x="1159" y="640" width="3" height="18" fill="#00ff00"/>
<rect x="1175" y="640" width="3" height="17" fill="#00ff00"/>
<rect x="1191" y="640" width="3" height="17" fill="#00ff00"/>
<rect x="1207" y="640" width="3" height="15" fill="#00ff00"/>
<rect x="1223" y="640" width="3" height="14" fill="#00ff00"/>
<rect x="1239" y="640" width="3" height="10" fill="#00ff00"/>
<rect x="1255" y="640" width="3" height="11" fill="#00ff00"/>
<rect x="1271" y="640" width="3" height="13" fill="#00ff00"/>
</g>
<polygon points="1281,244 1282,244 1337.5,384 1342,383 1339.5,401 1327.5,389 1330.5,386" fill="#308a30"/>
<polyline points="-8,608 25,608 120,613 168,625.5 200,638 232,649 265,656 295,659.5 320,661 360,662.7 408,673 440,684 471,692 503,692 535,684 568,669.4 600,648.4 615,639.5 640,630 665,620.8 681,618 712,618 728,619 760,621.7 808,632.8 840,637.5 872,643.6 905,649.4 935,654 960,657.2 985,659.5 1016,660.8 1032,661.8 1112,661.8 1128,660.4 1176,659.5 1192,658 1225,656 1257,654 1272,653.6" fill="none" stroke="#ff0000" stroke-width="2" shape-rendering="crispEdges"/>
<g shape-rendering="crispEdges">
<line x1="-1" y1="737.5" x2="1631" y2="737.5" stroke="#000" stroke-width="1" stroke-dasharray="3 3"/>
<line x1="-1" y1="768.5" x2="1631" y2="768.5" stroke="#000" stroke-width="1" stroke-dasharray="3 3"/>
<line x1="-1" y1="806.5" x2="1631" y2="806.5" stroke="#000" stroke-width="1" stroke-dasharray="3 3"/>
</g>
<polyline points="-8,761 8,764 24,764 40,764 56,765 72,765 88,760.5 104,775 120,775 136,776 152,775 168,779.6 184,781 200,772.5 216,772.5 232,772.5 248,769.7 264,771 280,771 296,775 312,775 328,780 344,782.4 360,780 376,786.8 392,786.8 408,788.7 424,790.6 440,787.2 456,778.6 472,772 488,760.9 504,761.8 520,761.5 536,760.9 552,754.2 568,752.9 584,758.6 600,761 616,763 632,763 648,761.5 664,762.8 680,772.5 696,769.7 712,771.6 728,766.2 744,761.5 760,770 776,775.8 792,775.8 808,772 824,766.6 840,776.7 856,773.8 872,773.8 888,773.5 904,771.6 920,774.8 936,774.8 952,773.5 968,774.8 984,771 1000,771 1016,774.4 1032,774.8 1048,781 1064,771.6 1080,768.7 1096,771 1112,771 1128,771 1144,773.8 1160,773.8 1176,771.6 1192,772.9 1208,770.6 1224,769.7 1240,764.9 1256,774.8 1272,774.8" fill="none" stroke="#1e90ff" stroke-width="2" shape-rendering="crispEdges"/>
<text x="7" y="38" class="t">GBPJPY-,H4</text>
<text x="66" y="38" class="t">161.378</text>
<text x="102" y="38" class="t">161.506</text>
<text x="138" y="38" class="t">161.212</text>
<text x="174" y="38" class="t">161.309</text>
<polygon points="-1,32 4,32 1.5,35.5" fill="#000"/>
<text x="-3" y="613" class="t">MACD(12,26,9) -0.0893 -0.1001</text>
<text x="-2" y="726" class="t">RSI(14) 44.0905</text>
<g shape-rendering="crispEdges"><rect x="1631" y="604" width="3" height="1" fill="#000"/><rect x="1631" y="711" width="3" height="1" fill="#000"/><rect x="1631" y="716" width="3" height="1" fill="#000"/></g>
<text x="1635" y="611" class="t">0.292</text>
<text x="1635" y="644" class="t">0.00</text>
<text x="1635" y="709" class="t">-0.5353</text>
<text x="1635" y="725" class="t">100</text>
<text x="1635" y="742" class="t">80</text>
<text x="1635" y="773" class="t">50</text>
<text x="1635" y="811" class="t">15</text>
<text x="1635" y="820" class="t">0</text>
<rect x="-8" y="822" width="1" height="4" fill="#000" shape-rendering="crispEdges"/>
<text x="-9" y="836" class="tm">9 Aug 2022</text>
<rect x="56" y="822" width="1" height="4" fill="#000" shape-rendering="crispEdges"/>
<text x="55" y="836" class="tm">10 Aug 00:00</text>
<rect x="120" y="822" width="1" height="4" fill="#000" shape-rendering="crispEdges"/>
<text x="119" y="836" class="tm">10 Aug 16:00</text>
<rect x="184" y="822" width="1" height="4" fill="#000" shape-rendering="crispEdges"/>
<text x="183" y="836" class="tm">11 Aug 08:00</text>
<rect x="248" y="822" width="1" height="4" fill="#000" shape-rendering="crispEdges"/>
<text x="247" y="836" class="tm">12 Aug 00:00</text>
<rect x="312" y="822" width="1" height="4" fill="#000" shape-rendering="crispEdges"/>
<text x="311" y="836" class="tm">12 Aug 16:00</text>
<rect x="376" y="822" width="1" height="4" fill="#000" shape-rendering="crispEdges"/>
<text x="375" y="836" class="tm">15 Aug 08:00</text>
<rect x="440" y="822" width="1" height="4" fill="#000" shape-rendering="crispEdges"/>
<text x="439" y="836" class="tm">16 Aug 00:00</text>
<rect x="504" y="822" width="1" height="4" fill="#000" shape-rendering="crispEdges"/>
<text x="503" y="836" class="tm">16 Aug 16:00</text>
<rect x="568" y="822" width="1" height="4" fill="#000" shape-rendering="crispEdges"/>
<text x="567" y="836" class="tm">17 Aug 08:00</text>
<rect x="632" y="822" width="1" height="4" fill="#000" shape-rendering="crispEdges"/>
<text x="631" y="836" class="tm">18 Aug 00:00</text>
<rect x="696" y="822" width="1" height="4" fill="#000" shape-rendering="crispEdges"/>
<text x="695" y="836" class="tm">18 Aug 16:00</text>
<rect x="760" y="822" width="1" height="4" fill="#000" shape-rendering="crispEdges"/>
<text x="759" y="836" class="tm">19 Aug 08:00</text>
<rect x="824" y="822" width="1" height="4" fill="#000" shape-rendering="crispEdges"/>
<text x="823" y="836" class="tm">22 Aug 00:00</text>
<rect x="888" y="822" width="1" height="4" fill="#000" shape-rendering="crispEdges"/>
<text x="887" y="836" class="tm">22 Aug 16:00</text>
<rect x="952" y="822" width="1" height="4" fill="#000" shape-rendering="crispEdges"/>
<text x="951" y="836" class="tm">23 Aug 08:00</text>
<rect x="1016" y="822" width="1" height="4" fill="#000" shape-rendering="crispEdges"/>
<text x="1015" y="836" class="tm">24 Aug 00:00</text>
<rect x="1080" y="822" width="1" height="4" fill="#000" shape-rendering="crispEdges"/>
<text x="1079" y="836" class="tm">24 Aug 16:00</text>
<rect x="1144" y="822" width="1" height="4" fill="#000" shape-rendering="crispEdges"/>
<text x="1143" y="836" class="tm">25 Aug 08:00</text>
<rect x="1208" y="822" width="1" height="4" fill="#000" shape-rendering="crispEdges"/>
<text x="1207" y="836" class="tm">26 Aug 00:00</text>
<rect x="1272" y="822" width="1" height="4" fill="#000" shape-rendering="crispEdges"/>
<text x="1271" y="836" class="tm">26 Aug 16:00</text>
</svg></body></html>
